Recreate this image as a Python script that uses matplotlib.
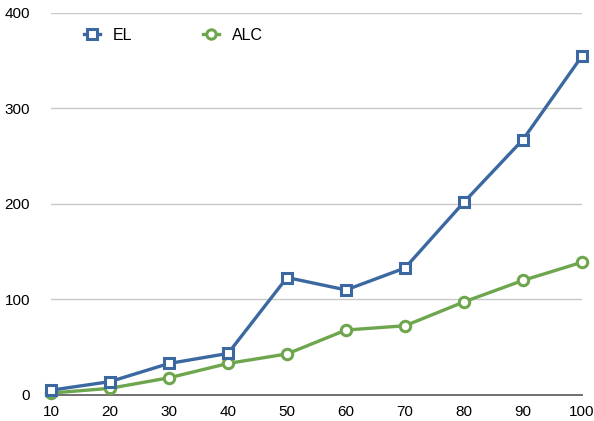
import matplotlib
matplotlib.use('Agg')
import matplotlib.pyplot as plt

# --- Data ---
x_values = [10, 20, 30, 40, 50, 60, 70, 80, 90, 100]
el_values = [5, 14, 33, 43.5, 123, 110, 133, 202, 267.5, 355]
alc_values = [2, 7, 18, 33, 43, 68, 72.5, 97.5, 120, 139]
y_ticks = [0, 100, 200, 300, 400]

BLUE = '#3b68a0'
GREEN = '#6ea64e'

plt.rcParams['font.family'] = ['Liberation Sans', 'DejaVu Sans']

fig = plt.figure(figsize=(5.94, 4.21), dpi=100)
ax = fig.add_axes([0.0859, 0.0618, 0.894, 0.9074])

ax.plot(x_values, el_values, color=BLUE, lw=2.4, marker='s', ms=7.5,
        mfc='white', mec=BLUE, mew=2.2, clip_on=False, zorder=4, label='EL')
ax.plot(x_values, alc_values, color=GREEN, lw=2.4, marker='o', ms=7.5,
        mfc='white', mec=GREEN, mew=2.2, clip_on=False, zorder=3, label='ALC')

ax.set_xlim(10, 100)
ax.set_ylim(0, 400)
ax.set_xticks(x_values)
ax.set_yticks(y_ticks)

# Horizontal gridlines only, plus a darker baseline
ax.yaxis.grid(True, color='#c8c8c8', lw=1)
ax.set_axisbelow(True)
for side in ['top', 'right', 'left']:
    ax.spines[side].set_visible(False)
ax.spines['bottom'].set_color('#707070')
ax.spines['bottom'].set_linewidth(1.4)
ax.tick_params(axis='both', length=0, labelsize=11, colors='black')
ax.tick_params(axis='y', pad=15)
ax.tick_params(axis='x', pad=7)

ax.legend(loc='upper left', bbox_to_anchor=(0.118, 0.968), bbox_transform=fig.transFigure,
          ncol=2, frameon=False, fontsize=11.5, handlelength=1.0,
          handletextpad=0.8, columnspacing=4.4, markerscale=0.9)

fig.savefig('out.png', dpi=100)
